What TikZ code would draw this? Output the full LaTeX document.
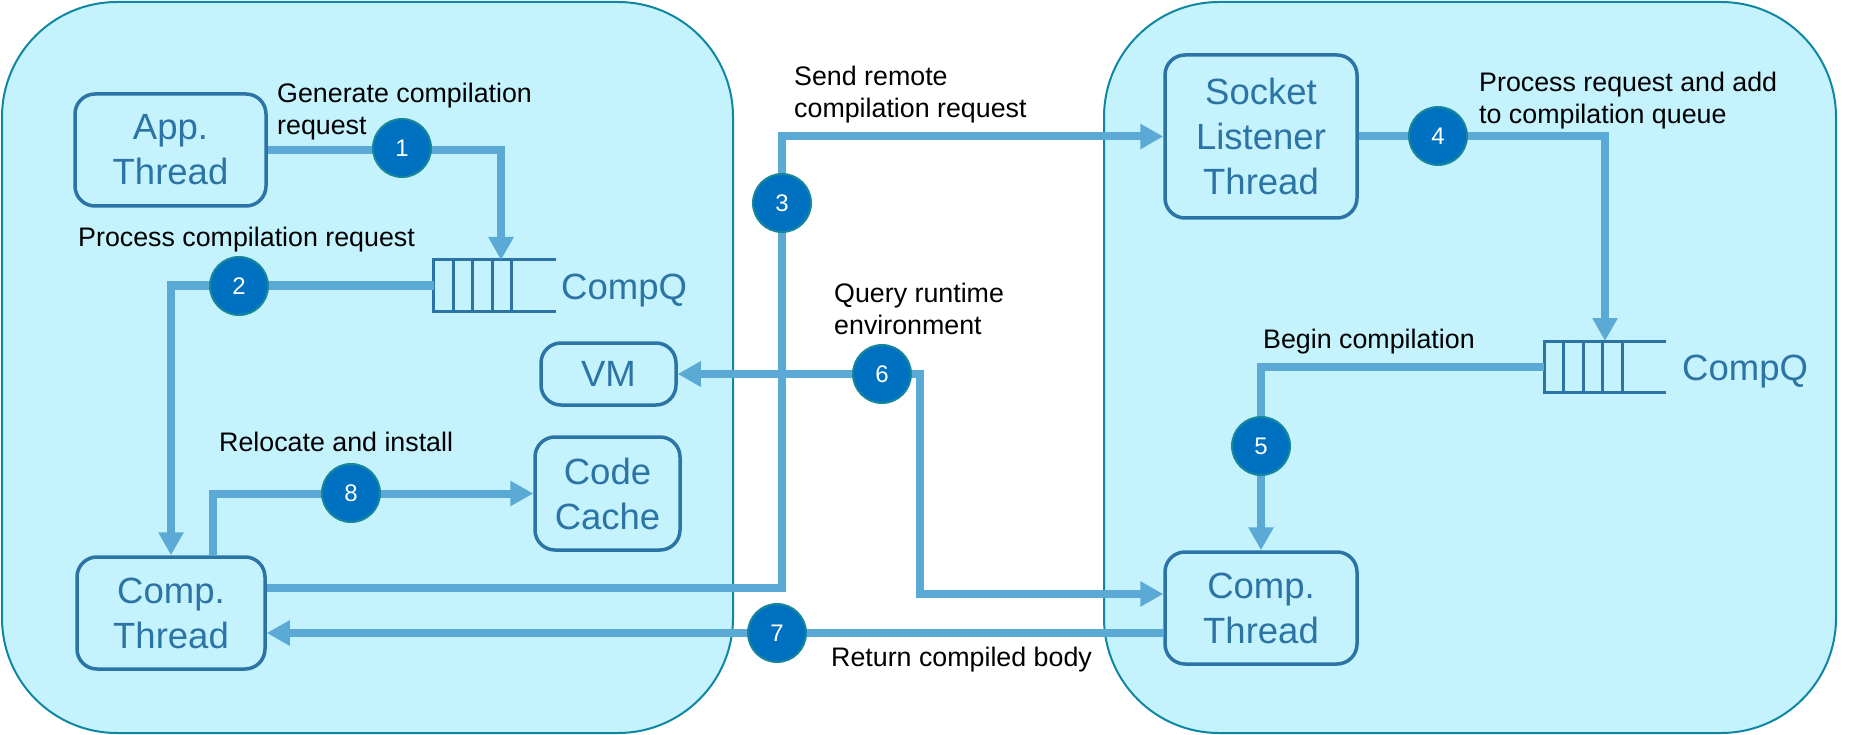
\documentclass[tikz,border=0pt]{standalone}
\usepackage{fontspec}
\setmainfont{Liberation Sans}
\usetikzlibrary{arrows.meta}

\begin{document}
\begin{tikzpicture}[x=1pt, y=-1pt,
  >={Triangle[width=24pt,length=23pt]},
  panel/.style={draw=borde_panel, fill=fondo_panel, line width=2pt, rounded corners=115pt, minimum height=731pt},
  box/.style={draw=azul_caja, line width=3.5pt, rounded corners=20pt, text=azul_caja, align=center, inner sep=0pt, font=\fontsize{36.5}{45}\selectfont},
  queue/.style={draw=azul_caja, line width=3pt, minimum width=78pt, minimum height=51pt, inner sep=0pt, outer sep=0pt},
  queue line/.style={draw=azul_caja, line width=3pt},
  flow/.style={draw=azul_flecha, line width=8pt, ->},
  num/.style={circle, draw=borde_paso, fill=azul_paso, line width=2pt, minimum size=58pt, inner sep=0pt, text=white, font=\fontsize{24}{28}\selectfont},
  note/.style={anchor=base west, align=left, inner sep=0pt, font=\fontsize{26.8}{32}\selectfont},
  qname/.style={anchor=base west, inner sep=0pt, text=azul_caja, font=\fontsize{36.5}{45}\selectfont}]

    \definecolor{fondo_panel}{HTML}{C4F2FD}
    \definecolor{borde_panel}{HTML}{1087A2}
    \definecolor{azul_caja}{HTML}{2C74A5}
    \definecolor{azul_flecha}{HTML}{5BA9D5}
    \definecolor{azul_paso}{HTML}{0070C0}
    \definecolor{borde_paso}{HTML}{17879C}

  \useasboundingbox (0,0) rectangle (1849,735);

  % Client side and server side

  \node [panel, minimum width=731pt] (client) at (367.5,367.5) {};
  \node [panel, minimum width=732pt] (server) at (1470,367.5) {};

  % Threads and components

  \node [box, minimum width=191pt, minimum height=112pt] (app) at (170.5,150) {App.\\Thread};
  \node [box, minimum width=188pt, minimum height=112pt] (compL) at (171,613) {Comp.\\Thread};
  \node [box, minimum width=135pt, minimum height=62pt] (vm) at (608.5,374) {VM};
  \node [box, minimum width=145pt, minimum height=113pt] (cache) at (607.5,493.5) {Code\\Cache};
  \node [box, minimum width=192pt, minimum height=163pt] (sock) at (1261,136.5) {Socket\\Listener\\Thread};
  \node [box, minimum width=192pt, minimum height=112pt] (compR) at (1261,608) {Comp.\\Thread};

  % Compilation queues

  \node [queue] (qL) at (472.5,285.5) {};
  \node [queue] (qR) at (1583,366.5) {};
  \foreach \q in {qL,qR} {
    \foreach \i in {1,2,3}
      \draw [queue line] ([xshift=\i*19.5pt]\q.north west) -- ([xshift=\i*19.5pt]\q.south west);
    \draw [queue line] (\q.north east) -- ++(44,0);
    \draw [queue line] (\q.south east) -- ++(44,0);
  }
  \node [qname] (qLname) at (561,299) {CompQ};
  \node [qname] (qRname) at (1682,380) {CompQ};

  % Flow of a remote compilation

  \coordinate (b3) at (782,400);
  \coordinate (b6) at (920,500);

  \draw [flow] (app.east) -| ([xshift=28.5pt]qL.north);
  \draw [flow] (qL.west) -| (compL.north);
  \draw [flow] ([yshift=25pt]compL.east) -| (b3) |- (sock.west);
  \draw [flow] (sock.east) -| ([xshift=22pt]qR.north);
  \draw [flow] (qR.west) -| (compR.north);
  \draw [flow, <->] (vm.east) -| (b6) |- ([yshift=14pt]compR.west);
  \draw [flow] ([yshift=-25pt]compR.west) -- ([yshift=-25pt]compR.west -| compL.east);
  \draw [flow] ([xshift=42pt]compL.north) |- (cache.west);

  % Step numbers

  \node [num] (n1) at (402,148) {1};
  \node [num] (n2) at (239,286) {2};
  \node [num] (n3) at (782,203) {3};
  \node [num] (n4) at (1438,136) {4};
  \node [num] (n5) at (1261,446) {5};
  \node [num] (n6) at (882,374) {6};
  \node [num] (n7) at (777,633) {7};
  \node [num] (n8) at (351,493) {8};

  % Step descriptions

  \node [note] (t1) at (277,135) {Generate compilation\\request};
  \node [note] (t2) at (78,247) {Process compilation request};
  \node [note] (t3) at (794,118) {Send remote\\compilation request};
  \node [note] (t4) at (1479,124) {Process request and add\\to compilation queue};
  \node [note] (t5) at (1263,348) {Begin compilation};
  \node [note] (t6) at (834,334) {Query runtime\\environment};
  \node [note] (t7) at (831,666) {Return compiled body};
  \node [note] (t8) at (219,451) {Relocate and install};

\end{tikzpicture}
\end{document}
